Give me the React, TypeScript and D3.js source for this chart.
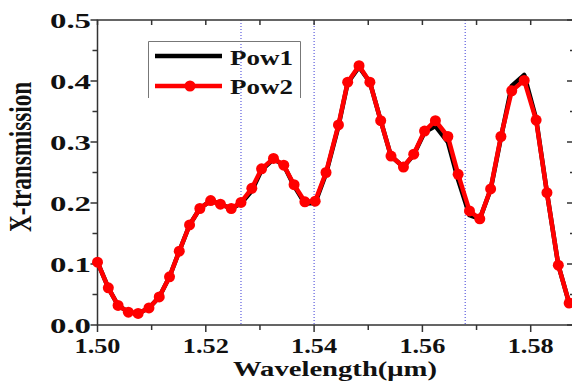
import { useEffect, useRef } from "react";
import * as d3 from "d3";

// wavelengths (µm) of the sampled points
const wavelengths = [
  1.5, 1.502, 1.5038, 1.5057, 1.5075, 1.5095, 1.5114, 1.5133, 1.5151, 1.517,
  1.5189, 1.5209, 1.5227, 1.5247, 1.5265, 1.5285, 1.5303, 1.5325, 1.5344, 1.5363,
  1.5383, 1.5402, 1.5422, 1.5445, 1.5462, 1.5483, 1.5503, 1.5523, 1.5542, 1.5565,
  1.5584, 1.5604, 1.5624, 1.5647, 1.5666, 1.5687, 1.5706, 1.5726, 1.5745, 1.5765,
  1.5788, 1.581, 1.583, 1.5851, 1.5871,
];

const pow1 = [
  0.103, 0.061, 0.032, 0.021, 0.019, 0.028, 0.046, 0.079, 0.121, 0.164,
  0.191, 0.204, 0.198, 0.191, 0.199, 0.22, 0.254, 0.272, 0.262, 0.228,
  0.199, 0.2, 0.248, 0.326, 0.397, 0.423, 0.398, 0.335, 0.277, 0.259,
  0.279, 0.316, 0.326, 0.3, 0.238, 0.18, 0.174, 0.222, 0.307, 0.392,
  0.41, 0.338, 0.217, 0.098, 0.036,
];

const pow2 = [
  0.103, 0.061, 0.032, 0.021, 0.019, 0.028, 0.046, 0.079, 0.121, 0.164,
  0.191, 0.204, 0.198, 0.191, 0.201, 0.224, 0.256, 0.273, 0.262, 0.23,
  0.202, 0.203, 0.25, 0.328, 0.398, 0.425, 0.398, 0.335, 0.277, 0.259,
  0.28, 0.318, 0.335, 0.309, 0.247, 0.187, 0.174, 0.223, 0.309, 0.384,
  0.401, 0.336, 0.217, 0.098, 0.036,
];

const xTicks = [1.5, 1.52, 1.54, 1.56, 1.58];
const xMinor = [1.51, 1.53, 1.55, 1.57];
const yTicks = [0, 0.1, 0.2, 0.3, 0.4, 0.5];
const yMinor = [0.05, 0.15, 0.25, 0.35, 0.45];
const markerLines = [1.5265, 1.54, 1.5679];

const W = 572;
const H = 381;
const FONT = "'Liberation Serif', 'Times New Roman', serif";

export default function App() {
  const ref = useRef<SVGSVGElement>(null);

  useEffect(() => {
    const svg = d3.select(ref.current);
    svg.selectAll("*").remove();

    const left = 97.5, right = 576, top = 20, bottom = 325;
    const x = d3.scaleLinear().domain([1.5, 1.5 + (right - left) / 5415]).range([left, right]);
    const y = d3.scaleLinear().domain([0, 0.5]).range([bottom, top]);

    const axisColor = "#333";

    // vertical dotted guide lines
    svg.selectAll(".guide")
      .data(markerLines)
      .join("line")
      .attr("x1", (d) => x(d)).attr("x2", (d) => x(d))
      .attr("y1", top).attr("y2", bottom)
      .attr("stroke", "#3b3bd6")
      .attr("stroke-width", 1)
      .attr("stroke-dasharray", "1,2");

    // frame
    svg.append("rect")
      .attr("x", left).attr("y", top)
      .attr("width", right - left).attr("height", bottom - top)
      .attr("fill", "none").attr("stroke", axisColor).attr("stroke-width", 1.5);

    const tick = (x1: number, y1: number, x2: number, y2: number) =>
      svg.append("line")
        .attr("x1", x1).attr("y1", y1).attr("x2", x2).attr("y2", y2)
        .attr("stroke", axisColor).attr("stroke-width", 1.5);

    // x ticks: bottom outward, top inward
    xTicks.forEach((t) => { tick(x(t), bottom, x(t), bottom + 7); tick(x(t), top, x(t), top + 5); });
    xMinor.forEach((t) => { tick(x(t), bottom, x(t), bottom + 5); tick(x(t), top, x(t), top + 5); });
    // y ticks: left outward, right inward
    yTicks.forEach((t) => { tick(left - 7, y(t), left, y(t)); tick(right - 9, y(t), right, y(t)); });
    yMinor.forEach((t) => { tick(left - 5, y(t), left, y(t)); tick(right - 6, y(t), right, y(t)); });

    // tick labels
    svg.selectAll(".xl")
      .data(xTicks)
      .join("text")
      .attr("x", (d) => x(d)).attr("y", 353)
      .attr("text-anchor", "middle")
      .attr("font-family", FONT).attr("font-weight", "bold").attr("font-size", 22)
      .attr("textLength", 46).attr("lengthAdjust", "spacingAndGlyphs")
      .attr("fill", "#111")
      .text((d) => d.toFixed(2));

    svg.selectAll(".yl")
      .data(yTicks)
      .join("text")
      .attr("x", 50).attr("y", (d) => y(d) + 7.5)
      .attr("font-family", FONT).attr("font-weight", "bold").attr("font-size", 22)
      .attr("textLength", 41).attr("lengthAdjust", "spacingAndGlyphs")
      .attr("fill", "#111")
      .text((d) => d.toFixed(1));

    // axis titles
    svg.append("text")
      .attr("x", 335).attr("y", 376)
      .attr("text-anchor", "middle")
      .attr("font-family", FONT).attr("font-weight", "bold").attr("font-size", 20)
      .attr("textLength", 204).attr("lengthAdjust", "spacingAndGlyphs")
      .attr("fill", "#111")
      .text("Wavelength(\u03bcm)");

    svg.append("text")
      .attr("transform", "translate(31,157) scale(1.4,1) rotate(-90)")
      .attr("text-anchor", "middle")
      .attr("font-family", FONT).attr("font-weight", "bold").attr("font-size", 22)
      .attr("textLength", 150).attr("lengthAdjust", "spacingAndGlyphs")
      .attr("fill", "#111")
      .text("X-transmission");

    // series
    const line = d3.line<number>()
      .x((_, i) => x(wavelengths[i]))
      .y((d) => y(d));

    svg.append("path")
      .datum(pow1)
      .attr("d", line)
      .attr("fill", "none").attr("stroke", "#000").attr("stroke-width", 4.5)
      .attr("stroke-linejoin", "round");

    svg.append("path")
      .datum(pow2)
      .attr("d", line)
      .attr("fill", "none").attr("stroke", "#ff0000").attr("stroke-width", 4.5)
      .attr("stroke-linejoin", "round");

    svg.selectAll(".dot")
      .data(pow2)
      .join("circle")
      .attr("cx", (_, i) => x(wavelengths[i]))
      .attr("cy", (d) => y(d))
      .attr("r", 5.5)
      .attr("fill", "#ff0000");

    // legend
    const lg = svg.append("g");
    lg.append("path")
      .attr("d", "M148.5,98 V41.5 H300.5 V98")
      .attr("fill", "none").attr("stroke", "#777").attr("stroke-width", 1);
    lg.append("line")
      .attr("x1", 155).attr("x2", 222).attr("y1", 56).attr("y2", 56)
      .attr("stroke", "#000").attr("stroke-width", 4.5);
    lg.append("line")
      .attr("x1", 155).attr("x2", 222).attr("y1", 86).attr("y2", 86)
      .attr("stroke", "#ff0000").attr("stroke-width", 4.5);
    lg.append("circle").attr("cx", 190).attr("cy", 86).attr("r", 5.5).attr("fill", "#ff0000");
    ["Pow1", "Pow2"].forEach((name, i) => {
      lg.append("text")
        .attr("x", 230).attr("y", 65 + i * 29)
        .attr("font-family", FONT).attr("font-weight", "bold").attr("font-size", 20)
        .attr("textLength", 63).attr("lengthAdjust", "spacingAndGlyphs")
        .attr("fill", "#111")
        .text(name);
    });
  }, []);

  return (
    <svg
      ref={ref}
      width={W}
      height={H}
      style={{ position: "fixed", left: 0, top: 0, background: "#fff" }}
    />
  );
}
